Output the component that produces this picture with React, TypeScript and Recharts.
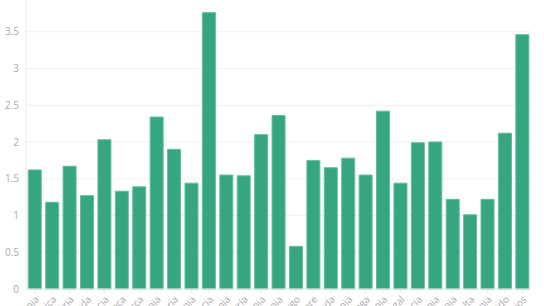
import React from "react";
import { BarChart, Bar, XAxis, YAxis, CartesianGrid } from "recharts";

const countries = [
  "Alemania", "Bélgica", "Austria", "Irlanda", "Croacia", "República Checa", "Dinamarca",
  "Eslovenia", "Bulgaria", "Estonia", "Francia", "Rumania", "Hungría", "Letonia",
  "Lituania", "Luxemburgo", "Chipre", "Holanda", "Polonia", "Noruega", "Ucrania",
  "Portugal", "Grecia", "Albania", "Bosnia", "Malta", "Armenia", "Reino Unido", "Países Bajos",
];

const values = [
  1.62, 1.18, 1.67, 1.27, 2.03, 1.33, 1.39, 2.34, 1.9, 1.44, 3.76, 1.55, 1.54, 2.1,
  2.36, 0.58, 1.75, 1.65, 1.78, 1.55, 2.42, 1.44, 1.99, 2.0, 1.22, 1.01, 1.22, 2.12, 3.46,
];

const yTicks = [0, 0.5, 1, 1.5, 2, 2.5, 3, 3.5];

const data = countries.map((name, i) => ({ name, value: values[i] }));

export default function App() {
  return (
    <div style={{ position: "absolute", left: 0, top: -10 }}>
      <BarChart
        width={544}
        height={380}
        data={data}
        margin={{ top: 5, right: 13, left: 0, bottom: 0 }}
        barCategoryGap="13%"
      >
        <CartesianGrid vertical={false} stroke="#f0f0f0" />
        <XAxis
          dataKey="name"
          interval={0}
          angle={-45}
          textAnchor="end"
          height={81}
          tick={{ fill: "#aaa", fontSize: 10, fontFamily: "Open Sans" }}
          tickLine={{ stroke: "#e6e6e6" }}
          tickSize={4}
          axisLine={{ stroke: "#ececec" }}
        />
        <YAxis
          width={26}
          domain={[0, 4]}
          ticks={yTicks}
          tickLine={false}
          tickSize={0}
          tickMargin={7}
          axisLine={{ stroke: "#ececec" }}
          tick={{ fill: "#aaa", fontSize: 10, fontFamily: "Open Sans" }}
        />
        <Bar
          dataKey="value"
          fill="#35a67f"
          stroke="#62bf9b"
          strokeWidth={1}
          isAnimationActive={false}
        />
      </BarChart>
    </div>
  );
}
